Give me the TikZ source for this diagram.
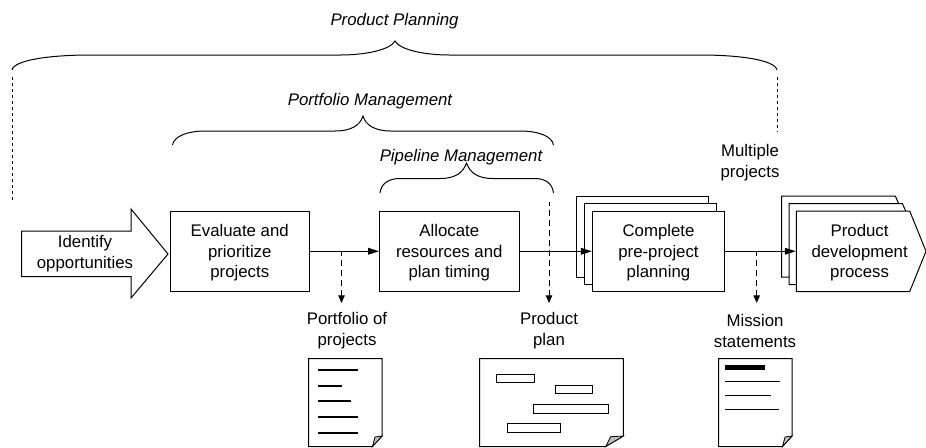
\documentclass[tikz,border=0pt]{standalone}
\usepackage{fontspec}
\setmainfont{Liberation Sans}
\usetikzlibrary{arrows.meta}
\tikzset{>={Triangle[length=5.5pt,width=3.4pt]},
every picture/.append style={
    line join=miter,
    line width=.5pt,
    x=.5pt,y=-.5pt,
    font=\fontsize{8.4}{10.4}\selectfont
  },
lbl/.style={align=center,inner sep=0pt},
stagebox/.style={draw,fill=white,align=center,inner sep=0pt,minimum height=40.25pt},
bare/.style={align=center,inner sep=0pt,minimum height=40.25pt},
flow/.style={->},
output/.style={{Triangle[length=3.8pt,width=3.2pt]}-,dash pattern=on 3pt off 2pt},
span/.style={dash pattern=on 1.5pt off 1.5pt},
foldover/.style={draw,fill=black!25,line width=.4pt},
textrule/.style={line width=1pt}
}

\begin{document}
\begin{tikzpicture}
        \useasboundingbox (0,0) rectangle (926,447);
        % brackets
        \draw (12,70) .. controls (14,60) and (50,55) .. (90,55) -- (340,55) .. controls (365,55) and (390,50) .. (395,41) .. controls (400,50) and (425,55) .. (450,55) -- (700,55) .. controls (740,55) and (775,60) .. (777,70);
        \draw (172.5,145) .. controls (174,136) and (188,131) .. (205,131) -- (335,131) .. controls (350,131) and (360,126) .. (363,116) .. controls (366,126) and (376,131) .. (391,131) -- (520,131) .. controls (538,131) and (552,136) .. (553.5,145);
        \draw (380,193) .. controls (381,184) and (388,178.5) .. (400,178.5) -- (440,178.5) .. controls (455,178.5) and (463,173) .. (466.5,163) .. controls (470,173) and (478,178.5) .. (493,178.5) -- (535,178.5) .. controls (546,178.5) and (552.5,184) .. (553.5,193);
        \node [lbl] (planning) at (394.5,21) {\itshape Product Planning};
        \node [lbl] (portfolio) at (370,101) {\itshape Portfolio Management};
        \node [lbl] (pipeline) at (461,157) {\itshape Pipeline Management};
        \node [lbl] (multiple) at (750,163) {Multiple\\projects};
        \coordinate (spanL) at (12,77);
        \coordinate (spanLb) at (12,200);
        \coordinate (spanR) at (777,77);
        \coordinate (spanRb) at (777,132);
        \draw [span] (spanL) -- (spanLb);
        \draw [span] (spanR) -- (spanRb);
        % process
        \draw (21.5,231) -- (131,231) -- (131,209) -- (168,254) -- (131,298) -- (131,276.5) -- (21.5,276.5) -- cycle;
        \node [bare,minimum width=63.5pt] (identify) at (85,254) {Identify\\opportunities};
        \node [stagebox,minimum width=69.75pt] (evaluate) at (239.75,251.25) {};
        \node [stagebox,minimum width=69.75pt] (allocate) at (449.25,251.25) {};
        \node [lbl] (evaluateText) at (evaluate.center) [yshift=-.75pt] {Evaluate and\\prioritize\\projects};
        \node [lbl] (allocateText) at (allocate.center) [yshift=-.75pt] {Allocate\\resources and\\plan timing};
        \node [stagebox,minimum width=66.2pt,minimum height=40.5pt] (backA) at (642.6,236.5) {};
        \node [stagebox,minimum width=66pt,minimum height=40.5pt] (backB) at (650,244) {};
        \node [stagebox,minimum width=66.2pt] (complete) at (658.5,251.25) {};
        \node [lbl] (completeText) at (complete.center) [yshift=-.75pt] {Complete\\pre-project\\planning};
        \draw [fill=white] (781.7,196) -- (895.3,196) -- (898.7,203.5) -- (898.7,277) -- (781.7,277) -- cycle;
        \draw [fill=white] (789,203.5) -- (902.3,203.5) -- (905.7,211) -- (905.7,284.5) -- (789,284.5) -- cycle;
        \draw [fill=white] (796.3,211) -- (909.7,211) -- (926,251.25) -- (909.7,291.5) -- (796.3,291.5) -- cycle;
        \node [bare,minimum width=63.35pt] (product) at (859.6,251.25) {};
        \node [lbl] (productText) at (product.center) [yshift=-.75pt] {Product\\development\\process};
        \draw [flow] (evaluate) -- (allocate);
        \draw [flow] (allocate) -- (complete);
        \draw [flow] (complete) -- (product);
        % outputs
        \coordinate (pfTop) at (341.5,251);
        \coordinate (pfEnd) at (341.5,303);
        \coordinate (ppTop) at (549,202);
        \coordinate (ppEnd) at (549,303);
        \coordinate (msTop) at (756.7,251);
        \coordinate (msEnd) at (756.7,303);
        \draw [output] (pfEnd) -- (pfTop);
        \draw [output] (ppEnd) -- (ppTop);
        \draw [output] (msEnd) -- (msTop);
        \node [lbl] (pfLabel) at (347,331) {Portfolio of\\projects};
        \node [lbl] (ppLabel) at (549,331) {Product\\plan};
        \node [lbl] (msLabel) at (755,331) {Mission\\statements};
        % documents
        \draw (308.5,358.5) -- (382,358.5) -- (382,436) -- (372.5,446.5) -- (308.5,446.5) -- cycle;
        \path [foldover] (382,436) -- (375,437) -- (372.5,446.5) -- cycle;
        \foreach \y/\e in {370/358,385.7/342,401/351,417/358,433/358}
            \draw [textrule] (318,\y) -- (\e,\y);
        \draw (479.7,358.5) -- (623.3,358.5) -- (623.3,436) -- (605.7,446.5) -- (479.7,446.5) -- cycle;
        \path [foldover] (623.3,436) -- (610.7,436.7) -- (605.7,446.5) -- cycle;
        \draw (496.3,374) rectangle (534.3,382.7);
        \draw (555.3,385) rectangle (592.7,393.7);
        \draw (533.3,404.3) rectangle (608.3,413.3);
        \draw (507.7,423.3) rectangle (560.7,432.3);
        \draw (718.7,358.5) -- (792,358.5) -- (792,436) -- (782.5,446.5) -- (718.7,446.5) -- cycle;
        \path [foldover] (792,436) -- (785,437) -- (782.5,446.5) -- cycle;
        \fill (725,365) rectangle (765,370);
        \draw (725,381) -- (780.3,381);
        \draw (725,395) -- (771,395);
        \draw (725,409) -- (779,409);
    \end{tikzpicture}
\end{document}
